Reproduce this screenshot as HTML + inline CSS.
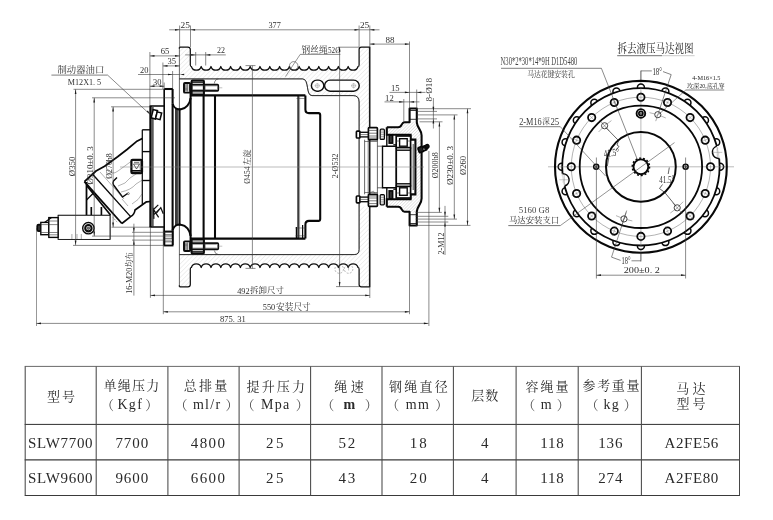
<!DOCTYPE html>
<html><head><meta charset="utf-8"><title>SLW winch drawing</title>
<style>html,body{margin:0;padding:0;background:#fff;}body{width:773px;height:520px;overflow:hidden;font-family:"Liberation Serif",serif;}svg{display:block}</style>
</head><body>
<svg width="773" height="520" viewBox="0 0 773 520">
<rect width="773" height="520" fill="#fff"/>
<g opacity="0.999">
<defs><pattern id="h" width="3.2" height="3.2" patternUnits="userSpaceOnUse" patternTransform="rotate(-45)"><line x1="0" y1="0" x2="3.2" y2="0" stroke="#c4c4c4" stroke-width="0.5"/></pattern></defs>
<path d="M179.4 79 L179.4 47.8 L180 47.2 L187.9 47.2 Q190.3 47.2 190.3 49.6 L190.3 64.7 Q190.3 66.5 191.4 66.5 A5.09 5.09 0 0 0 201.2 66.5 A5.09 5.09 0 0 0 211 66.5 A5.09 5.09 0 0 0 220.8 66.5 A5.09 5.09 0 0 0 230.6 66.5 A5.09 5.09 0 0 0 240.4 66.5 A5.09 5.09 0 0 0 250.2 66.5 A5.09 5.09 0 0 0 260 66.5 A5.09 5.09 0 0 0 269.8 66.5 A5.09 5.09 0 0 0 279.6 66.5 A5.09 5.09 0 0 0 289.4 66.5 A5.09 5.09 0 0 0 299.2 66.5 A5.09 5.09 0 0 0 309 66.5 A5.09 5.09 0 0 0 318.8 66.5 A5.09 5.09 0 0 0 328.6 66.5 A5.09 5.09 0 0 0 338.4 66.5 A5.09 5.09 0 0 0 348.2 66.5 A5.09 5.09 0 0 0 358 66.5 Q359.1 66.5 359.1 64.7 L359.1 49.6 Q359.1 47.2 361.5 47.2 L369.7 47.2 L369.7 127.4 L359.1 127.4 L359.1 102 Q359.1 95.6 353.2 95.6 L312 95.6 C305.5 95.6 309.5 78.9 302.5 78.9 L179.4 78.9 Z" stroke="none" stroke-width="0" fill="url(#h)"/>
<path d="M179.4 48.7 L179.4 47.8 L180 47.2 L187.9 47.2 Q190.3 47.2 190.3 49.6 L190.3 64.7 Q190.3 66.5 191.4 66.5 A5.09 5.09 0 0 0 201.2 66.5 A5.09 5.09 0 0 0 211 66.5 A5.09 5.09 0 0 0 220.8 66.5 A5.09 5.09 0 0 0 230.6 66.5 A5.09 5.09 0 0 0 240.4 66.5 A5.09 5.09 0 0 0 250.2 66.5 A5.09 5.09 0 0 0 260 66.5 A5.09 5.09 0 0 0 269.8 66.5 A5.09 5.09 0 0 0 279.6 66.5 A5.09 5.09 0 0 0 289.4 66.5 A5.09 5.09 0 0 0 299.2 66.5 A5.09 5.09 0 0 0 309 66.5 A5.09 5.09 0 0 0 318.8 66.5 A5.09 5.09 0 0 0 328.6 66.5 A5.09 5.09 0 0 0 338.4 66.5 A5.09 5.09 0 0 0 348.2 66.5 A5.09 5.09 0 0 0 358 66.5 Q359.1 66.5 359.1 64.7 L359.1 49.6 Q359.1 47.2 361.5 47.2 L369.7 47.2" stroke="#101010" stroke-width="1.24" fill="none" stroke-linejoin="round"/>
<path d="M179.4 78.9 L302.5 78.9 C309.5 78.9 305.5 95.6 312 95.6 L353.2 95.6 Q359.1 95.6 359.1 102" stroke="#161616" stroke-width="0.84" fill="none"/>
<path d="M179.4 78.9 L302.5 78.9 C309.5 78.9 305.5 95.6 312 95.6 L353.2 95.6 Q359.1 95.6 359.1 102" stroke="#161616" stroke-width="0.4" fill="none"/>
<path d="M218.5 78.9 Q215 79.2 214.3 83.5" stroke="#333" stroke-width="0.6" fill="none"/>
<rect x="311.4" y="80.1" width="12.4" height="11.1" rx="5.5" stroke="#101010" stroke-width="1.45" fill="#fff"/>
<rect x="324.6" y="80.1" width="34.6" height="11.1" rx="5.5" stroke="#101010" stroke-width="1.45" fill="#fff"/>
<circle cx="317.3" cy="85.7" r="2" stroke="#888" stroke-width="0.4" fill="none"/>
<line x1="314.7" y1="85.7" x2="319.9" y2="85.7" stroke="#888" stroke-width="0.4"/>
<line x1="317.3" y1="83.1" x2="317.3" y2="88.3" stroke="#888" stroke-width="0.4"/>
<circle cx="353.6" cy="85.7" r="2" stroke="#888" stroke-width="0.4" fill="none"/>
<line x1="351" y1="85.7" x2="356.2" y2="85.7" stroke="#888" stroke-width="0.4"/>
<line x1="353.6" y1="83.1" x2="353.6" y2="88.3" stroke="#888" stroke-width="0.4"/>
<path d="M179.4 255 L179.4 286.2 L180 286.8 L187.9 286.8 Q190.3 286.8 190.3 284.4 L190.3 269.3 Q190.3 267.5 191.4 267.5 A5.09 5.09 0 0 1 201.2 267.5 A5.09 5.09 0 0 1 211 267.5 A5.09 5.09 0 0 1 220.8 267.5 A5.09 5.09 0 0 1 230.6 267.5 A5.09 5.09 0 0 1 240.4 267.5 A5.09 5.09 0 0 1 250.2 267.5 A5.09 5.09 0 0 1 260 267.5 A5.09 5.09 0 0 1 269.8 267.5 A5.09 5.09 0 0 1 279.6 267.5 A5.09 5.09 0 0 1 289.4 267.5 A5.09 5.09 0 0 1 299.2 267.5 A5.09 5.09 0 0 1 309 267.5 A5.09 5.09 0 0 1 318.8 267.5 A5.09 5.09 0 0 1 328.6 267.5 A5.09 5.09 0 0 1 338.4 267.5 A5.09 5.09 0 0 1 348.2 267.5 A5.09 5.09 0 0 1 358 267.5 Q359.1 267.5 359.1 269.3 L359.1 284.4 Q359.1 286.8 361.5 286.8 L369.7 286.8 L369.7 206.6 L359.1 206.6 L359.1 249.6 Q359.1 254.6 354.2 254.6 L179.4 254.6 Z" stroke="none" stroke-width="0" fill="url(#h)"/>
<path d="M179.4 285.3 L179.4 286.2 L180 286.8 L187.9 286.8 Q190.3 286.8 190.3 284.4 L190.3 269.3 Q190.3 267.5 191.4 267.5 A5.09 5.09 0 0 1 201.2 267.5 A5.09 5.09 0 0 1 211 267.5 A5.09 5.09 0 0 1 220.8 267.5 A5.09 5.09 0 0 1 230.6 267.5 A5.09 5.09 0 0 1 240.4 267.5 A5.09 5.09 0 0 1 250.2 267.5 A5.09 5.09 0 0 1 260 267.5 A5.09 5.09 0 0 1 269.8 267.5 A5.09 5.09 0 0 1 279.6 267.5 A5.09 5.09 0 0 1 289.4 267.5 A5.09 5.09 0 0 1 299.2 267.5 A5.09 5.09 0 0 1 309 267.5 A5.09 5.09 0 0 1 318.8 267.5 A5.09 5.09 0 0 1 328.6 267.5 A5.09 5.09 0 0 1 338.4 267.5 A5.09 5.09 0 0 1 348.2 267.5 A5.09 5.09 0 0 1 358 267.5 Q359.1 267.5 359.1 269.3 L359.1 284.4 Q359.1 286.8 361.5 286.8 L369.7 286.8" stroke="#101010" stroke-width="1.24" fill="none" stroke-linejoin="round"/>
<path d="M179.4 254.6 L354.2 254.6 Q359.1 254.6 359.1 249.6" stroke="#161616" stroke-width="0.84" fill="none"/>
<path d="M179.4 254.6 L354.2 254.6 Q359.1 254.6 359.1 249.6" stroke="#161616" stroke-width="0.4" fill="none"/>
<path d="M218.5 254.6 Q215 254.3 214.3 250.5" stroke="#333" stroke-width="0.6" fill="none"/>
<circle cx="339.2" cy="269" r="4.3" stroke="#666" stroke-width="0.45" fill="none" stroke-dasharray="2 1.3"/>
<line x1="339.2" y1="266.5" x2="339.2" y2="270.5" stroke="#777" stroke-width="0.4"/>
<circle cx="348.6" cy="269" r="4.3" stroke="#666" stroke-width="0.45" fill="none" stroke-dasharray="2 1.3"/>
<line x1="348.6" y1="266.5" x2="348.6" y2="270.5" stroke="#777" stroke-width="0.4"/>
<line x1="369.7" y1="46.8" x2="369.7" y2="287.2" stroke="#1a1a1a" stroke-width="1.59"/>
<line x1="359.1" y1="102" x2="359.1" y2="249.6" stroke="#161616" stroke-width="0.84"/>
<line x1="359.1" y1="102" x2="359.1" y2="249.6" stroke="#161616" stroke-width="0.4"/>
<line x1="179.4" y1="47.2" x2="179.4" y2="286.8" stroke="#2a2a2a" stroke-width="0.7"/>
<line x1="190.6" y1="95.4" x2="305.4" y2="95.4" stroke="#080808" stroke-width="2.07"/>
<line x1="190.6" y1="238.6" x2="305.4" y2="238.6" stroke="#080808" stroke-width="2.07"/>
<line x1="203.6" y1="95.4" x2="203.6" y2="238.6" stroke="#080808" stroke-width="2.07"/>
<line x1="215" y1="95.4" x2="215" y2="238.6" stroke="#080808" stroke-width="2.07"/>
<line x1="190.6" y1="92" x2="190.6" y2="242" stroke="#080808" stroke-width="2.07"/>
<line x1="298.1" y1="95.4" x2="298.1" y2="238.6" stroke="#080808" stroke-width="1.38"/>
<line x1="299.6" y1="95.4" x2="299.6" y2="238.6" stroke="#333" stroke-width="0.5"/>
<path d="M305.4 95.4 V109.5 Q305.4 113.1 309 113.1 H318.4 Q320.2 113.1 320.2 115 V219 Q320.2 220.9 318.4 220.9 H309 Q305.4 220.9 305.4 224.5 V238.6" stroke="#080808" stroke-width="2.07" fill="none"/>
<line x1="296.4" y1="227" x2="296.4" y2="238.6" stroke="#080808" stroke-width="1.24"/>
<line x1="302.6" y1="225" x2="302.6" y2="238.6" stroke="#080808" stroke-width="1.24"/>
<line x1="295.5" y1="228" x2="306" y2="228" stroke="#333" stroke-width="0.5"/>
<line x1="295.5" y1="235.8" x2="306" y2="235.8" stroke="#333" stroke-width="0.5"/>
<line x1="296.5" y1="98.5" x2="305" y2="98.5" stroke="#333" stroke-width="0.5"/>
<rect x="184" y="83" width="6.2" height="9.6" rx="0.9" stroke="#0c0c0c" stroke-width="1.93" fill="#fff"/>
<line x1="184.9" y1="84.8" x2="187.6" y2="84.8" stroke="#111" stroke-width="0.6"/>
<line x1="184.9" y1="86" x2="187.6" y2="86" stroke="#111" stroke-width="0.6"/>
<line x1="184.9" y1="87.2" x2="187.6" y2="87.2" stroke="#111" stroke-width="0.6"/>
<line x1="184.9" y1="88.4" x2="187.6" y2="88.4" stroke="#111" stroke-width="0.6"/>
<line x1="184.9" y1="89.6" x2="187.6" y2="89.6" stroke="#111" stroke-width="0.6"/>
<line x1="184.9" y1="90.8" x2="187.6" y2="90.8" stroke="#111" stroke-width="0.6"/>
<line x1="187.8" y1="84" x2="187.8" y2="91.6" stroke="#222" stroke-width="0.6"/>
<rect x="191.6" y="80.6" width="12.3" height="14.4" rx="0.8" stroke="#0c0c0c" stroke-width="2.07" fill="#fff"/>
<rect x="190.2" y="84.7" width="28.1" height="6.2" rx="0.8" stroke="#0c0c0c" stroke-width="1.66" fill="none"/>
<line x1="192.1" y1="85.8" x2="216.8" y2="85.8" stroke="#333" stroke-width="0.6"/>
<line x1="192.1" y1="89.8" x2="216.8" y2="89.8" stroke="#333" stroke-width="0.6"/>
<line x1="191.6" y1="82.5" x2="203.9" y2="82.5" stroke="#111" stroke-width="0.84"/>
<line x1="191.6" y1="93.1" x2="203.9" y2="93.1" stroke="#111" stroke-width="0.84"/>
<line x1="205.1" y1="84.7" x2="205.1" y2="90.9" stroke="#333" stroke-width="0.6"/>
<line x1="218.3" y1="87.8" x2="222.3" y2="87.8" stroke="#666" stroke-width="0.4"/>
<rect x="184" y="241.4" width="6.2" height="9.6" rx="0.9" stroke="#0c0c0c" stroke-width="1.93" fill="#fff"/>
<line x1="184.9" y1="243.2" x2="187.6" y2="243.2" stroke="#111" stroke-width="0.6"/>
<line x1="184.9" y1="244.4" x2="187.6" y2="244.4" stroke="#111" stroke-width="0.6"/>
<line x1="184.9" y1="245.6" x2="187.6" y2="245.6" stroke="#111" stroke-width="0.6"/>
<line x1="184.9" y1="246.8" x2="187.6" y2="246.8" stroke="#111" stroke-width="0.6"/>
<line x1="184.9" y1="248" x2="187.6" y2="248" stroke="#111" stroke-width="0.6"/>
<line x1="184.9" y1="249.2" x2="187.6" y2="249.2" stroke="#111" stroke-width="0.6"/>
<line x1="187.8" y1="242.4" x2="187.8" y2="250" stroke="#222" stroke-width="0.6"/>
<rect x="191.6" y="239" width="12.3" height="14.4" rx="0.8" stroke="#0c0c0c" stroke-width="2.07" fill="#fff"/>
<rect x="190.2" y="243.1" width="28.1" height="6.2" rx="0.8" stroke="#0c0c0c" stroke-width="1.66" fill="none"/>
<line x1="192.1" y1="244.2" x2="216.8" y2="244.2" stroke="#333" stroke-width="0.6"/>
<line x1="192.1" y1="248.2" x2="216.8" y2="248.2" stroke="#333" stroke-width="0.6"/>
<line x1="191.6" y1="240.9" x2="203.9" y2="240.9" stroke="#111" stroke-width="0.84"/>
<line x1="191.6" y1="251.5" x2="203.9" y2="251.5" stroke="#111" stroke-width="0.84"/>
<line x1="205.1" y1="243.1" x2="205.1" y2="249.3" stroke="#333" stroke-width="0.6"/>
<line x1="218.3" y1="246.2" x2="222.3" y2="246.2" stroke="#666" stroke-width="0.4"/>
<line x1="164.2" y1="89" x2="172.9" y2="89" stroke="#080808" stroke-width="2.07"/>
<line x1="164.2" y1="245" x2="172.9" y2="245" stroke="#080808" stroke-width="2.07"/>
<line x1="164.2" y1="89" x2="164.2" y2="245" stroke="#080808" stroke-width="1.66"/>
<line x1="172.6" y1="89" x2="172.6" y2="103.8" stroke="#080808" stroke-width="2.07"/>
<line x1="172.6" y1="245" x2="172.6" y2="230.2" stroke="#080808" stroke-width="2.07"/>
<line x1="172.6" y1="103.8" x2="172.6" y2="230.2" stroke="#080808" stroke-width="2.07"/>
<path d="M172.6 103.8 C174 108.5 178 109.8 181 109.3 C186 108.6 190 104 190.6 98" stroke="#080808" stroke-width="2.07" fill="none"/>
<path d="M172.6 230.2 C174 225.5 178 224.2 181 224.7 C186 225.4 190 230 190.6 236" stroke="#080808" stroke-width="2.07" fill="none"/>
<line x1="176" y1="108.3" x2="176" y2="225.7" stroke="#080808" stroke-width="1.59"/>
<line x1="177.9" y1="108.3" x2="177.9" y2="225.7" stroke="#080808" stroke-width="1.24"/>
<line x1="179.8" y1="108.3" x2="179.8" y2="225.7" stroke="#080808" stroke-width="1.52"/>
<line x1="150.5" y1="106" x2="150.5" y2="227" stroke="#080808" stroke-width="2.35"/>
<line x1="152.9" y1="107" x2="152.9" y2="226.5" stroke="#1a1a1a" stroke-width="1.24"/>
<line x1="149.6" y1="106" x2="164.2" y2="106" stroke="#080808" stroke-width="1.52"/>
<line x1="149.6" y1="227" x2="164.2" y2="227" stroke="#080808" stroke-width="1.52"/>
<line x1="142.3" y1="129.8" x2="142.3" y2="204" stroke="#080808" stroke-width="1.24"/>
<line x1="142.3" y1="129.8" x2="150" y2="129.8" stroke="#080808" stroke-width="1.38"/>
<line x1="142.3" y1="151.6" x2="150" y2="151.6" stroke="#080808" stroke-width="1.38"/>
<line x1="142.3" y1="180.5" x2="150" y2="180.5" stroke="#080808" stroke-width="1.38"/>
<rect x="164.4" y="231.5" width="8.2" height="14" rx="0" stroke="#080808" stroke-width="1.79" fill="#fff"/>
<line x1="164.4" y1="234.8" x2="172.6" y2="234.8" stroke="#222" stroke-width="0.7"/>
<line x1="164.4" y1="238.3" x2="172.6" y2="238.3" stroke="#222" stroke-width="0.7"/>
<line x1="164.4" y1="241.8" x2="172.6" y2="241.8" stroke="#222" stroke-width="0.7"/>
<rect x="58.1" y="215.2" width="52" height="24.2" rx="0" stroke="#111" stroke-width="0.84" fill="#fff"/>
<rect x="58.1" y="215.2" width="52" height="24.2" rx="0" stroke="#111" stroke-width="0.5" fill="none"/>
<circle cx="88.4" cy="228.2" r="5.7" stroke="#080808" stroke-width="1.38" fill="none"/>
<circle cx="88.4" cy="228.2" r="3.2" stroke="#0c0c0c" stroke-width="2.07" fill="none"/>
<circle cx="88.4" cy="228.2" r="1.3" stroke="#333" stroke-width="0.6" fill="#777"/>
<line x1="71.9" y1="234" x2="71.9" y2="239" stroke="#555" stroke-width="0.5"/>
<line x1="77" y1="234" x2="77" y2="239" stroke="#555" stroke-width="0.5"/>
<line x1="81.3" y1="234" x2="81.3" y2="239" stroke="#555" stroke-width="0.5"/>
<rect x="37.2" y="224.6" width="3.8" height="6.6" rx="1.5" stroke="#080808" stroke-width="1.66" fill="#333"/>
<rect x="40.8" y="222.4" width="8" height="12.3" rx="0" stroke="#080808" stroke-width="1.38" fill="#fff"/>
<rect x="48.8" y="217.6" width="9.3" height="19.8" rx="0" stroke="#080808" stroke-width="1.38" fill="#fff"/>
<path d="M44.5 222.4 L51.5 217.6" stroke="#080808" stroke-width="1.24" fill="none"/>
<line x1="40.8" y1="224.6" x2="58" y2="224.6" stroke="#333" stroke-width="0.6"/>
<line x1="40.8" y1="232.5" x2="58" y2="232.5" stroke="#333" stroke-width="0.6"/>
<line x1="48.8" y1="221" x2="58" y2="221" stroke="#333" stroke-width="0.6"/>
<line x1="48.8" y1="234.8" x2="58" y2="234.8" stroke="#333" stroke-width="0.6"/>
<line x1="86.5" y1="182" x2="86.5" y2="215" stroke="#080808" stroke-width="1.79"/>
<path d="M87 186 L110.5 215" stroke="#080808" stroke-width="1.66" fill="none"/>
<line x1="91.3" y1="207" x2="91.3" y2="215" stroke="#080808" stroke-width="1.66"/>
<line x1="101.4" y1="207" x2="101.4" y2="215" stroke="#080808" stroke-width="1.66"/>
<path d="M86.5 200 L94 192.5" stroke="#080808" stroke-width="1.24" fill="none"/>
<path d="M142.3 138.5 L136.4 141.6 L127 149.5 L117.6 156.8 L104.6 166.2 L96 171 L90 176.5 L84.4 181.6" stroke="#080808" stroke-width="1.72" fill="none" stroke-linejoin="round"/>
<path d="M84.4 181.6 L121.9 223.5" stroke="#080808" stroke-width="1.86" fill="none"/>
<path d="M92.6 174.2 L130.6 216.6" stroke="#080808" stroke-width="1.38" fill="none"/>
<path d="M121.9 223.5 L130.6 216.6 Q134.5 214.5 135 210 L146.5 201.8 L150 201.5" stroke="#080808" stroke-width="1.66" fill="none" stroke-linejoin="round"/>
<path d="M113 217.5 L117.5 222.5" stroke="#333" stroke-width="0.6" fill="none" stroke-dasharray="1.2 1"/>
<path d="M117 177.5 L113.5 181 Q112.3 183 113.6 185 L122.5 197 L127.5 193.5" stroke="#080808" stroke-width="1.38" fill="none"/>
<circle cx="128.3" cy="193.6" r="1" stroke="#333" stroke-width="0.6" fill="none"/>
<path d="M100 172 L124 199 M106 169 Q112 176 118 171 L133 160 M118 186 Q126 184 130 178 L142 170 M121 192 Q131 190 136 184 L142.3 180 M128 206 L122 199 M132 204 Q139 200 142 194" stroke="#555" stroke-width="0.45" fill="none"/>
<rect x="131.4" y="159.8" width="10.6" height="13.4" rx="1.2" stroke="#0c0c0c" stroke-width="2.21" fill="#fff"/>
<line x1="131.4" y1="170.8" x2="142" y2="170.8" stroke="#080808" stroke-width="1.66"/>
<path d="M133.5 164 L139.5 164 L136.5 169 Z M134 162.3 H139" stroke="#222" stroke-width="0.7" fill="none"/>
<line x1="140.3" y1="160" x2="140.3" y2="173" stroke="#333" stroke-width="0.7"/>
<g transform="translate(155.3 114.5) rotate(14)">
<rect x="-3.2" y="-4.3" width="4.4" height="8.6" rx="0" stroke="#080808" stroke-width="1.52" fill="#fff"/>
<rect x="1.2" y="-3" width="4.6" height="6.8" rx="0" stroke="#080808" stroke-width="1.52" fill="#fff"/>
</g>
<g transform="translate(156 214) rotate(-18)">
<path d="M-3.5 4 L-1 -5 L1.5 4 M-1 -5 L5 -8 M1 -1 L6.5 -4.5 L7 2 M-2.2 0 L4.5 -3.4" stroke="#111" stroke-width="1.24" fill="none"/>
</g>
<defs><pattern id="h2" width="2.2" height="2.2" patternUnits="userSpaceOnUse" patternTransform="rotate(-45)"><line x1="0" y1="0" x2="2.2" y2="0" stroke="#a8a8a8" stroke-width="0.55"/></pattern></defs>
<path d="M386.8 127.2 H398.2 C402.6 127.2 400.8 122.3 404.6 122.3 H409.6 V108.5 H416.8 V122.3 C417.3 128.5 421.6 129.5 421.6 135.5 V167 H415.4 V139.6 H410.6 V134.8 H386.8 Z" stroke="none" stroke-width="0" fill="url(#h2)"/>
<rect x="409.6" y="108.5" width="7.2" height="13" rx="0" stroke="none" stroke-width="0" fill="#fff"/>
<path d="M386.8 127.2 H398.2 C402.6 127.2 400.8 122.3 404.6 122.3 H409.6 V108.5 H416.8 V122.3 C417.3 128.5 421.6 129.5 421.6 135.5 V167" stroke="#080808" stroke-width="2.07" fill="none" stroke-linejoin="round"/>
<path d="M386.8 127.2 V134.8 H410.6 V139.6 H415.4 V167" stroke="#080808" stroke-width="2.07" fill="none"/>
<line x1="409.6" y1="110.5" x2="416.8" y2="110.5" stroke="#111" stroke-width="0.84"/>
<line x1="409.6" y1="119.3" x2="416.8" y2="119.3" stroke="#111" stroke-width="0.84"/>
<rect x="396.2" y="136" width="14.4" height="11.6" rx="0" stroke="#080808" stroke-width="1.66" fill="#fff"/>
<rect x="399.6" y="138.7" width="7.6" height="7.5" rx="0" stroke="#080808" stroke-width="1.38" fill="#fff"/>
<line x1="396.2" y1="141" x2="399.6" y2="141" stroke="#333" stroke-width="0.6"/>
<line x1="407.2" y1="141" x2="410.6" y2="141" stroke="#333" stroke-width="0.6"/>
<rect x="389.2" y="135.2" width="3.4" height="7.9" rx="0" stroke="#080808" stroke-width="1.66" fill="#333"/>
<line x1="393.3" y1="144.8" x2="396.2" y2="144.8" stroke="#080808" stroke-width="1.24"/>
<path d="M386.8 134.6 V146.2 H396.2" stroke="#080808" stroke-width="1.38" fill="none"/>
<path d="M382.5 167 V146.2 H386.8" stroke="#080808" stroke-width="1.38" fill="none"/>
<line x1="396.2" y1="147.6" x2="396.2" y2="167" stroke="#080808" stroke-width="1.79"/>
<line x1="410.6" y1="147.6" x2="410.6" y2="167" stroke="#080808" stroke-width="1.79"/>
<line x1="413.2" y1="144" x2="413.2" y2="167" stroke="#222" stroke-width="0.84"/>
<line x1="396.2" y1="150.2" x2="410.6" y2="150.2" stroke="#080808" stroke-width="1.38"/>
<line x1="364.6" y1="139.7" x2="364.6" y2="167" stroke="#2a2a2a" stroke-width="0.7"/>
<line x1="368.2" y1="139.7" x2="368.2" y2="167" stroke="#2a2a2a" stroke-width="0.6"/>
<line x1="377.4" y1="139.7" x2="377.4" y2="167" stroke="#2a2a2a" stroke-width="0.7"/>
<line x1="377.4" y1="146.2" x2="382.5" y2="146.2" stroke="#2a2a2a" stroke-width="0.7"/>
<line x1="364.6" y1="141.5" x2="377.4" y2="141.5" stroke="#333" stroke-width="0.6"/>
<rect x="356.4" y="131.2" width="3.6" height="6.8" rx="0.8" stroke="#080808" stroke-width="1.66" fill="#fff"/>
<rect x="360" y="132.3" width="9" height="4.6" rx="0" stroke="#111" stroke-width="1.38" fill="#fff"/>
<line x1="360" y1="134.6" x2="369" y2="134.6" stroke="#333" stroke-width="0.6"/>
<rect x="368.4" y="127.6" width="9" height="12.1" rx="0.8" stroke="#080808" stroke-width="1.66" fill="#fff"/>
<line x1="368.4" y1="130.4" x2="377.4" y2="130.4" stroke="#222" stroke-width="0.6"/>
<line x1="368.4" y1="133.2" x2="377.4" y2="133.2" stroke="#222" stroke-width="0.6"/>
<line x1="368.4" y1="136" x2="377.4" y2="136" stroke="#222" stroke-width="0.6"/>
<line x1="368.4" y1="138" x2="377.4" y2="138" stroke="#222" stroke-width="0.6"/>
<rect x="380.2" y="129.2" width="4.2" height="10.2" rx="1" stroke="#080808" stroke-width="1.24" fill="#fff"/>
<line x1="380.4" y1="131" x2="384.2" y2="131" stroke="#333" stroke-width="0.45"/>
<line x1="380.4" y1="132.8" x2="384.2" y2="132.8" stroke="#333" stroke-width="0.45"/>
<line x1="380.4" y1="134.6" x2="384.2" y2="134.6" stroke="#333" stroke-width="0.45"/>
<line x1="380.4" y1="136.4" x2="384.2" y2="136.4" stroke="#333" stroke-width="0.45"/>
<line x1="380.4" y1="138.2" x2="384.2" y2="138.2" stroke="#333" stroke-width="0.45"/>
<path d="M386.8 206.8 H398.2 C402.6 206.8 400.8 211.7 404.6 211.7 H409.6 V225.5 H416.8 V211.7 C417.3 205.5 421.6 204.5 421.6 198.5 V167 H415.4 V194.4 H410.6 V199.2 H386.8 Z" stroke="none" stroke-width="0" fill="url(#h2)"/>
<rect x="409.6" y="212.5" width="7.2" height="13" rx="0" stroke="none" stroke-width="0" fill="#fff"/>
<path d="M386.8 206.8 H398.2 C402.6 206.8 400.8 211.7 404.6 211.7 H409.6 V225.5 H416.8 V211.7 C417.3 205.5 421.6 204.5 421.6 198.5 V167" stroke="#080808" stroke-width="2.07" fill="none" stroke-linejoin="round"/>
<path d="M386.8 206.8 V199.2 H410.6 V194.4 H415.4 V167" stroke="#080808" stroke-width="2.07" fill="none"/>
<line x1="409.6" y1="223.5" x2="416.8" y2="223.5" stroke="#111" stroke-width="0.84"/>
<line x1="409.6" y1="214.7" x2="416.8" y2="214.7" stroke="#111" stroke-width="0.84"/>
<rect x="396.2" y="186.4" width="14.4" height="11.6" rx="0" stroke="#080808" stroke-width="1.66" fill="#fff"/>
<rect x="399.6" y="187.8" width="7.6" height="7.5" rx="0" stroke="#080808" stroke-width="1.38" fill="#fff"/>
<line x1="396.2" y1="193" x2="399.6" y2="193" stroke="#333" stroke-width="0.6"/>
<line x1="407.2" y1="193" x2="410.6" y2="193" stroke="#333" stroke-width="0.6"/>
<rect x="389.2" y="190.9" width="3.4" height="7.9" rx="0" stroke="#080808" stroke-width="1.66" fill="#333"/>
<line x1="393.3" y1="189.2" x2="396.2" y2="189.2" stroke="#080808" stroke-width="1.24"/>
<path d="M386.8 199.4 V187.8 H396.2" stroke="#080808" stroke-width="1.38" fill="none"/>
<path d="M382.5 167 V187.8 H386.8" stroke="#080808" stroke-width="1.38" fill="none"/>
<line x1="396.2" y1="186.4" x2="396.2" y2="167" stroke="#080808" stroke-width="1.79"/>
<line x1="410.6" y1="186.4" x2="410.6" y2="167" stroke="#080808" stroke-width="1.79"/>
<line x1="413.2" y1="190" x2="413.2" y2="167" stroke="#222" stroke-width="0.84"/>
<line x1="396.2" y1="183.8" x2="410.6" y2="183.8" stroke="#080808" stroke-width="1.38"/>
<line x1="364.6" y1="194.3" x2="364.6" y2="167" stroke="#2a2a2a" stroke-width="0.7"/>
<line x1="368.2" y1="194.3" x2="368.2" y2="167" stroke="#2a2a2a" stroke-width="0.6"/>
<line x1="377.4" y1="194.3" x2="377.4" y2="167" stroke="#2a2a2a" stroke-width="0.7"/>
<line x1="377.4" y1="187.8" x2="382.5" y2="187.8" stroke="#2a2a2a" stroke-width="0.7"/>
<line x1="364.6" y1="192.5" x2="377.4" y2="192.5" stroke="#333" stroke-width="0.6"/>
<rect x="356.4" y="196" width="3.6" height="6.8" rx="0.8" stroke="#080808" stroke-width="1.66" fill="#fff"/>
<rect x="360" y="197.1" width="9" height="4.6" rx="0" stroke="#111" stroke-width="1.38" fill="#fff"/>
<line x1="360" y1="199.4" x2="369" y2="199.4" stroke="#333" stroke-width="0.6"/>
<rect x="368.4" y="194.3" width="9" height="12.1" rx="0.8" stroke="#080808" stroke-width="1.66" fill="#fff"/>
<line x1="368.4" y1="203.6" x2="377.4" y2="203.6" stroke="#222" stroke-width="0.6"/>
<line x1="368.4" y1="200.8" x2="377.4" y2="200.8" stroke="#222" stroke-width="0.6"/>
<line x1="368.4" y1="198" x2="377.4" y2="198" stroke="#222" stroke-width="0.6"/>
<line x1="368.4" y1="196" x2="377.4" y2="196" stroke="#222" stroke-width="0.6"/>
<rect x="380.2" y="194.6" width="4.2" height="10.2" rx="1" stroke="#080808" stroke-width="1.24" fill="#fff"/>
<line x1="380.4" y1="203" x2="384.2" y2="203" stroke="#333" stroke-width="0.45"/>
<line x1="380.4" y1="201.2" x2="384.2" y2="201.2" stroke="#333" stroke-width="0.45"/>
<line x1="380.4" y1="199.4" x2="384.2" y2="199.4" stroke="#333" stroke-width="0.45"/>
<line x1="380.4" y1="197.6" x2="384.2" y2="197.6" stroke="#333" stroke-width="0.45"/>
<line x1="380.4" y1="195.8" x2="384.2" y2="195.8" stroke="#333" stroke-width="0.45"/>
<g transform="translate(421.4 149.4) rotate(-20)">
<rect x="-3" y="-2.6" width="5" height="5.2" rx="1" stroke="#080808" stroke-width="1.66" fill="#222"/>
<rect x="2" y="-2.2" width="3.4" height="4.4" rx="1" stroke="#080808" stroke-width="1.52" fill="#111"/>
<circle cx="6.4" cy="-0.8" r="1.9" stroke="#080808" stroke-width="1.38" fill="#111"/>
<circle cx="2.5" cy="0.6" r="0.6" stroke="none" stroke-width="0" fill="#fff"/>
</g>
<path d="M370.5 192.3 L373.5 191.2 L374.8 193.5" stroke="#444" stroke-width="0.5" fill="none"/>
<line x1="169.2" y1="29.8" x2="379.5" y2="29.8" stroke="#3c3c3c" stroke-width="0.6"/>
<line x1="179.6" y1="25.5" x2="179.6" y2="47" stroke="#3c3c3c" stroke-width="0.6"/>
<line x1="190.5" y1="25.5" x2="190.5" y2="47" stroke="#3c3c3c" stroke-width="0.6"/>
<line x1="359.1" y1="25.5" x2="359.1" y2="47" stroke="#3c3c3c" stroke-width="0.6"/>
<line x1="369.8" y1="25.5" x2="369.8" y2="47" stroke="#3c3c3c" stroke-width="0.6"/>
<path d="M179.6 29.8 L175 30.65 L175 28.95 Z" fill="#1c1c1c"/>
<path d="M190.5 29.8 L195.1 28.95 L195.1 30.65 Z" fill="#1c1c1c"/>
<path d="M359.1 29.8 L354.5 30.65 L354.5 28.95 Z" fill="#1c1c1c"/>
<path d="M369.8 29.8 L374.4 28.95 L374.4 30.65 Z" fill="#1c1c1c"/>
<text x="185.2" y="28.4" font-family="'Liberation Serif', serif" font-size="9.0" fill="#2e2e2e" text-anchor="middle" textLength="9.4" lengthAdjust="spacingAndGlyphs">25</text>
<text x="274.6" y="28.4" font-family="'Liberation Serif', serif" font-size="9.0" fill="#2e2e2e" text-anchor="middle" textLength="12.4" lengthAdjust="spacingAndGlyphs">377</text>
<text x="364.6" y="28.4" font-family="'Liberation Serif', serif" font-size="9.0" fill="#2e2e2e" text-anchor="middle" textLength="9.4" lengthAdjust="spacingAndGlyphs">25</text>
<line x1="185.2" y1="54.9" x2="225.8" y2="54.9" stroke="#3c3c3c" stroke-width="0.6"/>
<line x1="195.7" y1="52" x2="195.7" y2="65.5" stroke="#3c3c3c" stroke-width="0.6"/>
<line x1="205.7" y1="52" x2="205.7" y2="65.5" stroke="#3c3c3c" stroke-width="0.6"/>
<path d="M195.7 54.9 L191.1 55.75 L191.1 54.05 Z" fill="#1c1c1c"/>
<path d="M205.7 54.9 L210.3 54.05 L210.3 55.75 Z" fill="#1c1c1c"/>
<text x="221" y="53.4" font-family="'Liberation Serif', serif" font-size="9.0" fill="#2e2e2e" text-anchor="middle" textLength="8" lengthAdjust="spacingAndGlyphs">22</text>
<line x1="149.9" y1="55.9" x2="179.6" y2="55.9" stroke="#3c3c3c" stroke-width="0.6"/>
<path d="M149.9 55.9 L154.5 55.05 L154.5 56.75 Z" fill="#1c1c1c"/>
<path d="M179.6 55.9 L175 56.75 L175 55.05 Z" fill="#1c1c1c"/>
<text x="165" y="54.4" font-family="'Liberation Serif', serif" font-size="9.0" fill="#2e2e2e" text-anchor="middle" textLength="8.6" lengthAdjust="spacingAndGlyphs">65</text>
<line x1="149.9" y1="52" x2="149.9" y2="106" stroke="#3c3c3c" stroke-width="0.6"/>
<line x1="162.9" y1="65.9" x2="179.6" y2="65.9" stroke="#3c3c3c" stroke-width="0.6"/>
<path d="M162.9 65.9 L167.5 65.05 L167.5 66.75 Z" fill="#1c1c1c"/>
<path d="M179.6 65.9 L175 66.75 L175 65.05 Z" fill="#1c1c1c"/>
<text x="171.8" y="64" font-family="'Liberation Serif', serif" font-size="9.0" fill="#2e2e2e" text-anchor="middle" textLength="8.6" lengthAdjust="spacingAndGlyphs">35</text>
<line x1="162.9" y1="62.5" x2="162.9" y2="89" stroke="#3c3c3c" stroke-width="0.6"/>
<line x1="138" y1="74.5" x2="179.6" y2="74.5" stroke="#3c3c3c" stroke-width="0.6"/>
<path d="M172.6 74.5 L168 75.35 L168 73.65 Z" fill="#1c1c1c"/>
<path d="M179.6 74.5 L184.2 73.65 L184.2 75.35 Z" fill="#1c1c1c"/>
<text x="144.2" y="72.8" font-family="'Liberation Serif', serif" font-size="8.6" fill="#2e2e2e" text-anchor="middle" textLength="8.4" lengthAdjust="spacingAndGlyphs">20</text>
<line x1="172.6" y1="71" x2="172.6" y2="89" stroke="#3c3c3c" stroke-width="0.6"/>
<line x1="149.9" y1="86.2" x2="164.2" y2="86.2" stroke="#3c3c3c" stroke-width="0.6"/>
<path d="M149.9 86.2 L154.5 85.35 L154.5 87.05 Z" fill="#1c1c1c"/>
<path d="M164.2 86.2 L159.6 87.05 L159.6 85.35 Z" fill="#1c1c1c"/>
<text x="157.2" y="84.6" font-family="'Liberation Serif', serif" font-size="8.6" fill="#2e2e2e" text-anchor="middle" textLength="8.4" lengthAdjust="spacingAndGlyphs">30</text>
<line x1="164.2" y1="82.5" x2="164.2" y2="89" stroke="#3c3c3c" stroke-width="0.6"/>
<line x1="369.8" y1="44.1" x2="409.5" y2="44.1" stroke="#3c3c3c" stroke-width="0.6"/>
<path d="M369.8 44.1 L374.4 43.25 L374.4 44.95 Z" fill="#1c1c1c"/>
<path d="M409.5 44.1 L404.9 44.95 L404.9 43.25 Z" fill="#1c1c1c"/>
<text x="390" y="42.6" font-family="'Liberation Serif', serif" font-size="9.0" fill="#2e2e2e" text-anchor="middle" textLength="9" lengthAdjust="spacingAndGlyphs">88</text>
<line x1="409.5" y1="41.5" x2="409.5" y2="108.5" stroke="#3c3c3c" stroke-width="0.6"/>
<line x1="389.5" y1="92.4" x2="425.5" y2="92.4" stroke="#3c3c3c" stroke-width="0.6"/>
<path d="M409.5 92.4 L404.9 93.25 L404.9 91.55 Z" fill="#1c1c1c"/>
<path d="M416.7 92.4 L421.3 91.55 L421.3 93.25 Z" fill="#1c1c1c"/>
<text x="395.3" y="90.8" font-family="'Liberation Serif', serif" font-size="9.0" fill="#2e2e2e" text-anchor="middle" textLength="8.6" lengthAdjust="spacingAndGlyphs">15</text>
<line x1="416.7" y1="89.5" x2="416.7" y2="108.5" stroke="#3c3c3c" stroke-width="0.6"/>
<line x1="384.5" y1="101.9" x2="419.5" y2="101.9" stroke="#3c3c3c" stroke-width="0.6"/>
<path d="M403.8 101.9 L399.2 102.75 L399.2 101.05 Z" fill="#1c1c1c"/>
<path d="M409.5 101.9 L414.1 101.05 L414.1 102.75 Z" fill="#1c1c1c"/>
<text x="389.4" y="100.5" font-family="'Liberation Serif', serif" font-size="9.0" fill="#2e2e2e" text-anchor="middle" textLength="8.6" lengthAdjust="spacingAndGlyphs">12</text>
<line x1="403.8" y1="99" x2="403.8" y2="122" stroke="#3c3c3c" stroke-width="0.6"/>
<line x1="150.4" y1="295.4" x2="369.8" y2="295.4" stroke="#3c3c3c" stroke-width="0.6"/>
<path d="M150.4 295.4 L155 294.55 L155 296.25 Z" fill="#1c1c1c"/>
<path d="M369.8 295.4 L365.2 296.25 L365.2 294.55 Z" fill="#1c1c1c"/>
<line x1="150.4" y1="227" x2="150.4" y2="297.8" stroke="#3c3c3c" stroke-width="0.6"/>
<line x1="369.8" y1="287" x2="369.8" y2="298" stroke="#3c3c3c" stroke-width="0.6"/>
<text x="237.2" y="293.6" font-family="'Liberation Serif', serif" font-size="9" fill="#2e2e2e" text-anchor="start" textLength="12.4" lengthAdjust="spacingAndGlyphs">492</text>
<text x="250" y="293.4" font-family="'Liberation Serif', 'Noto Serif CJK SC', serif" font-size="8.5" fill="#2e2e2e" text-anchor="start" textLength="34.1" lengthAdjust="spacingAndGlyphs">拆卸尺寸</text>
<line x1="163.3" y1="311.8" x2="409.5" y2="311.8" stroke="#3c3c3c" stroke-width="0.6"/>
<path d="M163.3 311.8 L167.9 310.95 L167.9 312.65 Z" fill="#1c1c1c"/>
<path d="M409.5 311.8 L404.9 312.65 L404.9 310.95 Z" fill="#1c1c1c"/>
<line x1="163.3" y1="228" x2="163.3" y2="314.2" stroke="#3c3c3c" stroke-width="0.6"/>
<line x1="409.5" y1="225.5" x2="409.5" y2="314.2" stroke="#3c3c3c" stroke-width="0.6"/>
<text x="262.8" y="309.7" font-family="'Liberation Serif', serif" font-size="9" fill="#2e2e2e" text-anchor="start" textLength="12.4" lengthAdjust="spacingAndGlyphs">550</text>
<text x="276" y="309.5" font-family="'Liberation Serif', 'Noto Serif CJK SC', serif" font-size="8.7" fill="#2e2e2e" text-anchor="start" textLength="34.8" lengthAdjust="spacingAndGlyphs">安装尺寸</text>
<line x1="36.4" y1="323.4" x2="428.5" y2="323.4" stroke="#3c3c3c" stroke-width="0.6"/>
<path d="M36.4 323.4 L41 322.55 L41 324.25 Z" fill="#1c1c1c"/>
<path d="M428.5 323.4 L423.9 324.25 L423.9 322.55 Z" fill="#1c1c1c"/>
<line x1="36.4" y1="228" x2="36.4" y2="326" stroke="#3c3c3c" stroke-width="0.6"/>
<line x1="428.9" y1="151" x2="428.9" y2="326" stroke="#3c3c3c" stroke-width="0.6"/>
<text x="220" y="322.3" font-family="'Liberation Serif', serif" font-size="9" fill="#2e2e2e" text-anchor="start" textLength="25.7" lengthAdjust="spacingAndGlyphs">875. 31</text>
<line x1="75.6" y1="89.3" x2="75.6" y2="245.2" stroke="#3c3c3c" stroke-width="0.6"/>
<path d="M75.6 89.3 L76.45 93.9 L74.75 93.9 Z" fill="#1c1c1c"/>
<path d="M75.6 245.2 L74.75 240.6 L76.45 240.6 Z" fill="#1c1c1c"/>
<line x1="73.5" y1="89.3" x2="164.2" y2="89.3" stroke="#3c3c3c" stroke-width="0.6"/>
<line x1="73" y1="245.4" x2="164.2" y2="245.4" stroke="#3c3c3c" stroke-width="0.6"/>
<text x="0" y="0" transform="translate(74.5 176.2) rotate(-90)" font-family="'Liberation Serif', serif" font-size="9.0" fill="#2e2e2e" text-anchor="start" textLength="19.6" lengthAdjust="spacingAndGlyphs">Ø350</text>
<line x1="94.2" y1="97.8" x2="94.2" y2="236.2" stroke="#3c3c3c" stroke-width="0.6"/>
<path d="M94.2 97.8 L95.05 102.4 L93.35 102.4 Z" fill="#1c1c1c"/>
<path d="M94.2 236.2 L93.35 231.6 L95.05 231.6 Z" fill="#1c1c1c"/>
<line x1="92" y1="97.8" x2="175" y2="97.8" stroke="#3c3c3c" stroke-width="0.6"/>
<line x1="92" y1="236.1" x2="172" y2="236.1" stroke="#3c3c3c" stroke-width="0.6"/>
<text x="0" y="0" transform="translate(92.9 184.6) rotate(-90)" font-family="'Liberation Serif', serif" font-size="9.0" fill="#2e2e2e" text-anchor="start" textLength="38.4" lengthAdjust="spacingAndGlyphs">Ø310±0. 3</text>
<line x1="113.1" y1="106.8" x2="113.1" y2="227.2" stroke="#3c3c3c" stroke-width="0.6"/>
<path d="M113.1 106.8 L113.95 111.4 L112.25 111.4 Z" fill="#1c1c1c"/>
<path d="M113.1 227.2 L112.25 222.6 L113.95 222.6 Z" fill="#1c1c1c"/>
<line x1="111" y1="106.8" x2="150" y2="106.8" stroke="#3c3c3c" stroke-width="0.6"/>
<line x1="111.5" y1="227.2" x2="150" y2="227.2" stroke="#3c3c3c" stroke-width="0.6"/>
<text x="0" y="0" transform="translate(111.9 178.8) rotate(-90)" font-family="'Liberation Serif', serif" font-size="9.0" fill="#2e2e2e" text-anchor="start" textLength="25.6" lengthAdjust="spacingAndGlyphs">Ø270h8</text>
<line x1="133.9" y1="223.7" x2="133.9" y2="295.6" stroke="#3c3c3c" stroke-width="0.6"/>
<path d="M133.9 232.3 L133.05 227.7 L134.75 227.7 Z" fill="#1c1c1c"/>
<path d="M133.9 240.1 L134.75 244.7 L133.05 244.7 Z" fill="#1c1c1c"/>
<line x1="132" y1="232.3" x2="172" y2="232.3" stroke="#3c3c3c" stroke-width="0.6"/>
<line x1="132" y1="240.1" x2="171" y2="240.1" stroke="#3c3c3c" stroke-width="0.6"/>
<text x="0" y="0" transform="translate(132.2 293.8) rotate(-90)" font-family="'Liberation Serif', serif" font-size="9.0" fill="#2e2e2e" text-anchor="start" textLength="26" lengthAdjust="spacingAndGlyphs">16-M20</text>
<text x="0" y="0" transform="translate(132 267.2) rotate(-90)" font-family="'Liberation Serif', 'Noto Serif CJK SC', serif" font-size="7.5" fill="#2e2e2e" text-anchor="start" textLength="14.9" lengthAdjust="spacingAndGlyphs">均布</text>
<text x="57.4" y="72.6" font-family="'Liberation Serif', 'Noto Serif CJK SC', serif" font-size="9.4" fill="#2e2e2e" text-anchor="start" textLength="47" lengthAdjust="spacingAndGlyphs">制动器油口</text>
<line x1="51.4" y1="75.1" x2="107.6" y2="75.1" stroke="#3c3c3c" stroke-width="0.65"/>
<line x1="107.6" y1="75.1" x2="150.2" y2="114.6" stroke="#3c3c3c" stroke-width="0.6"/>
<path d="M150.4 114.4 L146.64 111.62 L147.88 110.46 Z" fill="#1c1c1c"/>
<text x="67.8" y="84.9" font-family="'Liberation Serif', serif" font-size="9.0" fill="#2e2e2e" text-anchor="start" textLength="33.4" lengthAdjust="spacingAndGlyphs">M12X1. 5</text>
<text x="301.6" y="52.8" font-family="'Liberation Serif', 'Noto Serif CJK SC', serif" font-size="8.7" fill="#2e2e2e" text-anchor="start" textLength="26.1" lengthAdjust="spacingAndGlyphs">钢丝绳</text>
<text x="328" y="52.7" font-family="'Liberation Serif', serif" font-size="9.0" fill="#2e2e2e" text-anchor="start" textLength="12.4" lengthAdjust="spacingAndGlyphs">52Ø</text>
<line x1="300.2" y1="54.4" x2="340.4" y2="54.4" stroke="#3c3c3c" stroke-width="0.6"/>
<line x1="300.2" y1="54.4" x2="285.5" y2="76.5" stroke="#3c3c3c" stroke-width="0.55"/>
<circle cx="293.7" cy="65.8" r="4.2" stroke="#444" stroke-width="0.6" fill="none"/>
<line x1="339.6" y1="47.2" x2="339.6" y2="286.6" stroke="#3c3c3c" stroke-width="0.6"/>
<path d="M339.6 47.2 L340.45 51.8 L338.75 51.8 Z" fill="#1c1c1c"/>
<path d="M339.6 286.6 L338.75 282 L340.45 282 Z" fill="#1c1c1c"/>
<line x1="338" y1="47.2" x2="359" y2="47.2" stroke="#3c3c3c" stroke-width="0.6"/>
<line x1="336" y1="286.6" x2="359" y2="286.6" stroke="#3c3c3c" stroke-width="0.6"/>
<text x="0" y="0" transform="translate(338.3 178.2) rotate(-90)" font-family="'Liberation Serif', serif" font-size="9.0" fill="#2e2e2e" text-anchor="start" textLength="24.8" lengthAdjust="spacingAndGlyphs">2-Ø532</text>
<line x1="252.4" y1="65.6" x2="252.4" y2="268.4" stroke="#3c3c3c" stroke-width="0.6"/>
<line x1="245.5" y1="65.6" x2="255.5" y2="65.6" stroke="#3c3c3c" stroke-width="0.6"/>
<line x1="245.5" y1="268.4" x2="255.5" y2="268.4" stroke="#3c3c3c" stroke-width="0.6"/>
<text x="0" y="0" transform="translate(250 183.8) rotate(-90)" font-family="'Liberation Serif', serif" font-size="9.0" fill="#2e2e2e" text-anchor="start" textLength="17.5" lengthAdjust="spacingAndGlyphs">Ø454</text>
<text x="0" y="0" transform="translate(250 165.5) rotate(-90)" font-family="'Liberation Serif', 'Noto Serif CJK SC', serif" font-size="8" fill="#2e2e2e" text-anchor="start" textLength="16.1" lengthAdjust="spacingAndGlyphs">左旋</text>
<line x1="120" y1="167" x2="424" y2="167" stroke="#777" stroke-width="0.5"/>
<line x1="416.7" y1="108.7" x2="471" y2="108.7" stroke="#3c3c3c" stroke-width="0.6"/>
<line x1="416.7" y1="111.4" x2="437" y2="111.4" stroke="#3c3c3c" stroke-width="0.6"/>
<line x1="416.7" y1="114.9" x2="457.5" y2="114.9" stroke="#3c3c3c" stroke-width="0.6"/>
<line x1="416.7" y1="118.9" x2="437" y2="118.9" stroke="#3c3c3c" stroke-width="0.6"/>
<line x1="419.5" y1="121.8" x2="442.5" y2="121.8" stroke="#3c3c3c" stroke-width="0.6"/>
<line x1="415.6" y1="212.4" x2="441.8" y2="212.4" stroke="#3c3c3c" stroke-width="0.6"/>
<line x1="415.6" y1="216.3" x2="448.3" y2="216.3" stroke="#3c3c3c" stroke-width="0.6"/>
<line x1="415.6" y1="219.1" x2="457" y2="219.1" stroke="#3c3c3c" stroke-width="0.6"/>
<line x1="415.6" y1="222" x2="448.3" y2="222" stroke="#3c3c3c" stroke-width="0.6"/>
<line x1="415.6" y1="225.4" x2="470.5" y2="225.4" stroke="#3c3c3c" stroke-width="0.6"/>
<line x1="433.4" y1="98" x2="433.4" y2="128.5" stroke="#3c3c3c" stroke-width="0.6"/>
<path d="M433.4 111.4 L432.55 106.8 L434.25 106.8 Z" fill="#1c1c1c"/>
<path d="M433.4 118.9 L434.25 123.5 L432.55 123.5 Z" fill="#1c1c1c"/>
<text x="0" y="0" transform="translate(432.3 101.5) rotate(-90)" font-family="'Liberation Serif', serif" font-size="9.0" fill="#2e2e2e" text-anchor="start" textLength="23.5" lengthAdjust="spacingAndGlyphs">8-Ø18</text>
<line x1="439.4" y1="121.8" x2="439.4" y2="212.4" stroke="#3c3c3c" stroke-width="0.6"/>
<path d="M439.4 121.8 L440.25 126.4 L438.55 126.4 Z" fill="#1c1c1c"/>
<path d="M439.4 212.4 L438.55 207.8 L440.25 207.8 Z" fill="#1c1c1c"/>
<text x="0" y="0" transform="translate(438.4 178.3) rotate(-90)" font-family="'Liberation Serif', serif" font-size="9.0" fill="#2e2e2e" text-anchor="start" textLength="26" lengthAdjust="spacingAndGlyphs">Ø200h8</text>
<line x1="454.3" y1="114.9" x2="454.3" y2="219.1" stroke="#3c3c3c" stroke-width="0.6"/>
<path d="M454.3 114.9 L455.15 119.5 L453.45 119.5 Z" fill="#1c1c1c"/>
<path d="M454.3 219.1 L453.45 214.5 L455.15 214.5 Z" fill="#1c1c1c"/>
<text x="0" y="0" transform="translate(453.3 185) rotate(-90)" font-family="'Liberation Serif', serif" font-size="9.0" fill="#2e2e2e" text-anchor="start" textLength="39" lengthAdjust="spacingAndGlyphs">Ø230±0. 3</text>
<line x1="467.5" y1="108.7" x2="467.5" y2="225.4" stroke="#3c3c3c" stroke-width="0.6"/>
<path d="M467.5 108.7 L468.35 113.3 L466.65 113.3 Z" fill="#1c1c1c"/>
<path d="M467.5 225.4 L466.65 220.8 L468.35 220.8 Z" fill="#1c1c1c"/>
<text x="0" y="0" transform="translate(466.4 175) rotate(-90)" font-family="'Liberation Serif', serif" font-size="9.0" fill="#2e2e2e" text-anchor="start" textLength="19" lengthAdjust="spacingAndGlyphs">Ø260</text>
<line x1="445" y1="205.9" x2="445" y2="255" stroke="#3c3c3c" stroke-width="0.6"/>
<path d="M445 216.3 L444.15 211.7 L445.85 211.7 Z" fill="#1c1c1c"/>
<path d="M445 222 L445.85 226.6 L444.15 226.6 Z" fill="#1c1c1c"/>
<text x="0" y="0" transform="translate(443.6 254.4) rotate(-90)" font-family="'Liberation Serif', serif" font-size="9.0" fill="#2e2e2e" text-anchor="start" textLength="21.8" lengthAdjust="spacingAndGlyphs">2-M12</text>
<line x1="548" y1="166.8" x2="734" y2="166.8" stroke="#777" stroke-width="0.5"/>
<line x1="640.9" y1="70.5" x2="640.9" y2="262" stroke="#777" stroke-width="0.5"/>
<circle cx="640.9" cy="87.6" r="3.5" stroke="#080808" stroke-width="1.5" fill="#fff"/>
<circle cx="665.37" cy="91.48" r="3.5" stroke="#080808" stroke-width="1.5" fill="#fff"/>
<circle cx="687.45" cy="102.73" r="3.5" stroke="#080808" stroke-width="1.5" fill="#fff"/>
<circle cx="704.97" cy="120.25" r="3.5" stroke="#080808" stroke-width="1.5" fill="#fff"/>
<circle cx="716.22" cy="142.33" r="3.5" stroke="#080808" stroke-width="1.5" fill="#fff"/>
<circle cx="720.1" cy="166.8" r="3.5" stroke="#080808" stroke-width="1.5" fill="#fff"/>
<circle cx="716.22" cy="191.27" r="3.5" stroke="#080808" stroke-width="1.5" fill="#fff"/>
<circle cx="704.97" cy="213.35" r="3.5" stroke="#080808" stroke-width="1.5" fill="#fff"/>
<circle cx="687.45" cy="230.87" r="3.5" stroke="#080808" stroke-width="1.5" fill="#fff"/>
<circle cx="665.37" cy="242.12" r="3.5" stroke="#080808" stroke-width="1.5" fill="#fff"/>
<circle cx="640.9" cy="246" r="3.5" stroke="#080808" stroke-width="1.5" fill="#fff"/>
<circle cx="616.43" cy="242.12" r="3.5" stroke="#080808" stroke-width="1.5" fill="#fff"/>
<circle cx="594.35" cy="230.87" r="3.5" stroke="#080808" stroke-width="1.5" fill="#fff"/>
<circle cx="576.83" cy="213.35" r="3.5" stroke="#080808" stroke-width="1.5" fill="#fff"/>
<circle cx="565.58" cy="191.27" r="3.5" stroke="#080808" stroke-width="1.5" fill="#fff"/>
<circle cx="561.7" cy="166.8" r="3.5" stroke="#080808" stroke-width="1.5" fill="#fff"/>
<circle cx="565.58" cy="142.33" r="3.5" stroke="#080808" stroke-width="1.5" fill="#fff"/>
<circle cx="576.83" cy="120.25" r="3.5" stroke="#080808" stroke-width="1.5" fill="#fff"/>
<circle cx="594.35" cy="102.73" r="3.5" stroke="#080808" stroke-width="1.5" fill="#fff"/>
<circle cx="616.43" cy="91.48" r="3.5" stroke="#080808" stroke-width="1.5" fill="#fff"/>
<circle cx="640.9" cy="166.8" r="85.9" stroke="#080808" stroke-width="2.1" fill="none"/>
<circle cx="640.9" cy="166.8" r="78.7" stroke="#080808" stroke-width="1.8" fill="#fff"/>
<line x1="556" y1="166.8" x2="726" y2="166.8" stroke="#777" stroke-width="0.5"/>
<line x1="640.9" y1="88" x2="640.9" y2="246" stroke="#777" stroke-width="0.5"/>
<path d="M716.83 146.09 A78.7 78.7 0 0 1 719.15 158.38" stroke="#fff" stroke-width="2.8" fill="none"/>
<path d="M716.83 146.09 A6.3 6.3 0 0 0 719.15 158.38" stroke="#080808" stroke-width="1.5" fill="none"/>
<line x1="712.25" y1="152.37" x2="722.25" y2="152.37" stroke="#777" stroke-width="0.4"/>
<line x1="717.25" y1="147.37" x2="717.25" y2="157.37" stroke="#777" stroke-width="0.4"/>
<path d="M716.83 146.09 A78.7 78.7 0 0 1 719.15 158.38" stroke="#888" stroke-width="0.4" fill="none"/>
<path d="M564.59 186.05 A78.7 78.7 0 0 1 562.5 173.72" stroke="#fff" stroke-width="2.8" fill="none"/>
<path d="M564.59 186.05 A6.3 6.3 0 0 0 562.5 173.72" stroke="#080808" stroke-width="1.5" fill="none"/>
<line x1="559.29" y1="179.76" x2="569.29" y2="179.76" stroke="#777" stroke-width="0.4"/>
<line x1="564.29" y1="174.76" x2="564.29" y2="184.76" stroke="#777" stroke-width="0.4"/>
<path d="M564.59 186.05 A78.7 78.7 0 0 1 562.5 173.72" stroke="#888" stroke-width="0.4" fill="none"/>
<circle cx="640.9" cy="166.8" r="69.6" stroke="#555" stroke-width="0.45" fill="none"/>
<circle cx="640.9" cy="166.8" r="61.2" stroke="#080808" stroke-width="1.8" fill="none"/>
<circle cx="640.9" cy="166.8" r="34.9" stroke="#080808" stroke-width="2.0" fill="none"/>
<circle cx="640.9" cy="97.2" r="3.65" stroke="#080808" stroke-width="1.8" fill="#fff"/>
<line x1="640.9" y1="102.3" x2="640.9" y2="91.8" stroke="#666" stroke-width="0.4"/>
<line x1="638.7" y1="97.2" x2="643.1" y2="97.2" stroke="#666" stroke-width="0.4"/>
<circle cx="667.53" cy="102.5" r="3.65" stroke="#080808" stroke-width="1.8" fill="#fff"/>
<line x1="665.58" y1="107.21" x2="669.6" y2="97.51" stroke="#666" stroke-width="0.4"/>
<line x1="665.5" y1="101.66" x2="669.57" y2="103.34" stroke="#666" stroke-width="0.4"/>
<circle cx="690.11" cy="117.59" r="3.65" stroke="#080808" stroke-width="1.8" fill="#fff"/>
<line x1="686.51" y1="121.19" x2="693.93" y2="113.77" stroke="#666" stroke-width="0.4"/>
<line x1="688.56" y1="116.03" x2="691.67" y2="119.14" stroke="#666" stroke-width="0.4"/>
<circle cx="705.2" cy="140.17" r="3.65" stroke="#080808" stroke-width="1.8" fill="#fff"/>
<line x1="700.49" y1="142.12" x2="710.19" y2="138.1" stroke="#666" stroke-width="0.4"/>
<line x1="704.36" y1="138.13" x2="706.04" y2="142.2" stroke="#666" stroke-width="0.4"/>
<circle cx="710.5" cy="166.8" r="3.65" stroke="#080808" stroke-width="1.8" fill="#fff"/>
<line x1="705.4" y1="166.8" x2="715.9" y2="166.8" stroke="#666" stroke-width="0.4"/>
<line x1="710.5" y1="164.6" x2="710.5" y2="169" stroke="#666" stroke-width="0.4"/>
<circle cx="705.2" cy="193.43" r="3.65" stroke="#080808" stroke-width="1.8" fill="#fff"/>
<line x1="700.49" y1="191.48" x2="710.19" y2="195.5" stroke="#666" stroke-width="0.4"/>
<line x1="706.04" y1="191.4" x2="704.36" y2="195.47" stroke="#666" stroke-width="0.4"/>
<circle cx="690.11" cy="216.01" r="3.65" stroke="#080808" stroke-width="1.8" fill="#fff"/>
<line x1="686.51" y1="212.41" x2="693.93" y2="219.83" stroke="#666" stroke-width="0.4"/>
<line x1="691.67" y1="214.46" x2="688.56" y2="217.57" stroke="#666" stroke-width="0.4"/>
<circle cx="667.53" cy="231.1" r="3.65" stroke="#080808" stroke-width="1.8" fill="#fff"/>
<line x1="665.58" y1="226.39" x2="669.6" y2="236.09" stroke="#666" stroke-width="0.4"/>
<line x1="669.57" y1="230.26" x2="665.5" y2="231.94" stroke="#666" stroke-width="0.4"/>
<circle cx="640.9" cy="236.4" r="3.65" stroke="#080808" stroke-width="1.8" fill="#fff"/>
<line x1="640.9" y1="231.3" x2="640.9" y2="241.8" stroke="#666" stroke-width="0.4"/>
<line x1="643.1" y1="236.4" x2="638.7" y2="236.4" stroke="#666" stroke-width="0.4"/>
<circle cx="614.27" cy="231.1" r="3.65" stroke="#080808" stroke-width="1.8" fill="#fff"/>
<line x1="616.22" y1="226.39" x2="612.2" y2="236.09" stroke="#666" stroke-width="0.4"/>
<line x1="616.3" y1="231.94" x2="612.23" y2="230.26" stroke="#666" stroke-width="0.4"/>
<circle cx="591.69" cy="216.01" r="3.65" stroke="#080808" stroke-width="1.8" fill="#fff"/>
<line x1="595.29" y1="212.41" x2="587.87" y2="219.83" stroke="#666" stroke-width="0.4"/>
<line x1="593.24" y1="217.57" x2="590.13" y2="214.46" stroke="#666" stroke-width="0.4"/>
<circle cx="576.6" cy="193.43" r="3.65" stroke="#080808" stroke-width="1.8" fill="#fff"/>
<line x1="581.31" y1="191.48" x2="571.61" y2="195.5" stroke="#666" stroke-width="0.4"/>
<line x1="577.44" y1="195.47" x2="575.76" y2="191.4" stroke="#666" stroke-width="0.4"/>
<circle cx="571.3" cy="166.8" r="3.65" stroke="#080808" stroke-width="1.8" fill="#fff"/>
<line x1="576.4" y1="166.8" x2="565.9" y2="166.8" stroke="#666" stroke-width="0.4"/>
<line x1="571.3" y1="169" x2="571.3" y2="164.6" stroke="#666" stroke-width="0.4"/>
<circle cx="576.6" cy="140.17" r="3.65" stroke="#080808" stroke-width="1.8" fill="#fff"/>
<line x1="581.31" y1="142.12" x2="571.61" y2="138.1" stroke="#666" stroke-width="0.4"/>
<line x1="575.76" y1="142.2" x2="577.44" y2="138.13" stroke="#666" stroke-width="0.4"/>
<circle cx="591.69" cy="117.59" r="3.65" stroke="#080808" stroke-width="1.8" fill="#fff"/>
<line x1="595.29" y1="121.19" x2="587.87" y2="113.77" stroke="#666" stroke-width="0.4"/>
<line x1="590.13" y1="119.14" x2="593.24" y2="116.03" stroke="#666" stroke-width="0.4"/>
<circle cx="614.27" cy="102.5" r="3.65" stroke="#080808" stroke-width="1.8" fill="#fff"/>
<line x1="616.22" y1="107.21" x2="612.2" y2="97.51" stroke="#666" stroke-width="0.4"/>
<line x1="612.23" y1="103.34" x2="616.3" y2="101.66" stroke="#666" stroke-width="0.4"/>
<circle cx="596.2" cy="166.8" r="2.5" stroke="#080808" stroke-width="1.5" fill="#fff"/>
<circle cx="596.2" cy="166.8" r="0.9" stroke="#333" stroke-width="0.8" fill="#555"/>
<circle cx="685.6" cy="166.8" r="2.5" stroke="#080808" stroke-width="1.5" fill="#fff"/>
<circle cx="685.6" cy="166.8" r="0.9" stroke="#333" stroke-width="0.8" fill="#555"/>
<path d="M649.47 112.67 A54.8 54.8 0 0 1 665.78 117.97" stroke="#555" stroke-width="0.45" fill="none"/>
<circle cx="657.83" cy="114.68" r="3.1" stroke="#1c1c1c" stroke-width="0.8" fill="#fff"/>
<line x1="655.73" y1="121.15" x2="660.21" y2="107.36" stroke="#444" stroke-width="0.45"/>
<line x1="655.83" y1="116.68" x2="659.83" y2="112.68" stroke="#444" stroke-width="0.45"/>
<path d="M632.33 220.93 A54.8 54.8 0 0 1 616.02 215.63" stroke="#555" stroke-width="0.45" fill="none"/>
<circle cx="623.97" cy="218.92" r="3.1" stroke="#1c1c1c" stroke-width="0.8" fill="#fff"/>
<line x1="626.07" y1="212.45" x2="621.59" y2="226.24" stroke="#444" stroke-width="0.45"/>
<line x1="621.97" y1="220.92" x2="625.97" y2="216.92" stroke="#444" stroke-width="0.45"/>
<path d="M598.61 131.94 A54.8 54.8 0 0 1 611.46 120.58" stroke="#555" stroke-width="0.45" fill="none"/>
<circle cx="604.59" cy="125.76" r="3.1" stroke="#1c1c1c" stroke-width="0.8" fill="#fff"/>
<line x1="609.09" y1="130.85" x2="599.49" y2="119.99" stroke="#444" stroke-width="0.45"/>
<line x1="602.59" y1="127.76" x2="606.59" y2="123.76" stroke="#444" stroke-width="0.45"/>
<path d="M683.19 201.66 A54.8 54.8 0 0 1 670.34 213.02" stroke="#555" stroke-width="0.45" fill="none"/>
<circle cx="677.21" cy="207.84" r="3.1" stroke="#1c1c1c" stroke-width="0.8" fill="#fff"/>
<line x1="672.71" y1="202.75" x2="682.31" y2="213.61" stroke="#444" stroke-width="0.45"/>
<line x1="675.21" y1="209.84" x2="679.21" y2="205.84" stroke="#444" stroke-width="0.45"/>
<circle cx="640.9" cy="113.4" r="4.3" stroke="#080808" stroke-width="1.9" fill="#fff"/>
<circle cx="640.9" cy="113.4" r="2" stroke="#080808" stroke-width="1.7" fill="none"/>
<circle cx="640.9" cy="113.4" r="0.7" stroke="#444" stroke-width="0.5" fill="#666"/>
<circle cx="640.9" cy="166.8" r="7.4" stroke="#080808" stroke-width="1.9" fill="#fff"/>
<circle cx="640.9" cy="166.8" r="8.7" stroke="#080808" stroke-width="1.4" fill="none" stroke-dasharray="1.95 1.95"/>
<line x1="596.4" y1="157.5" x2="596.4" y2="278.5" stroke="#3c3c3c" stroke-width="0.6"/>
<line x1="685.6" y1="157.5" x2="685.6" y2="278.5" stroke="#3c3c3c" stroke-width="0.6"/>
<line x1="596.4" y1="275.2" x2="685.6" y2="275.2" stroke="#3c3c3c" stroke-width="0.6"/>
<path d="M596.4 275.2 L601 274.35 L601 276.05 Z" fill="#1c1c1c"/>
<path d="M685.6 275.2 L681 276.05 L681 274.35 Z" fill="#1c1c1c"/>
<text x="641.8" y="273" font-family="'Liberation Serif', serif" font-size="9" fill="#2e2e2e" text-anchor="middle" textLength="36" lengthAdjust="spacingAndGlyphs">200±0. 2</text>
<text x="500.6" y="65.4" font-family="'Liberation Serif', serif" font-size="11.5" fill="#444" text-anchor="start" textLength="76.7" lengthAdjust="spacingAndGlyphs">N30*2*30*14*9H D1D5480</text>
<line x1="501" y1="68.3" x2="601.4" y2="68.3" stroke="#3a3a3a" stroke-width="0.65"/>
<line x1="601.4" y1="68.3" x2="637.4" y2="159.6" stroke="#3a3a3a" stroke-width="0.6"/>
<text x="527.2" y="76.6" font-family="'Liberation Serif', 'Noto Serif CJK SC', serif" font-size="8.4" fill="#333" text-anchor="start" textLength="47.5" lengthAdjust="spacingAndGlyphs">马达花键安装孔</text>
<text x="519.2" y="124.6" font-family="'Liberation Serif', serif" font-size="10" fill="#3a3a3a" text-anchor="start" textLength="22.5" lengthAdjust="spacingAndGlyphs">2-M16</text>
<text x="542.3" y="124.4" font-family="'Liberation Serif', 'Noto Serif CJK SC', serif" font-size="7.6" fill="#333" text-anchor="start" textLength="7.6" lengthAdjust="spacingAndGlyphs">深</text>
<text x="550.4" y="124.6" font-family="'Liberation Serif', serif" font-size="10" fill="#3a3a3a" text-anchor="start" textLength="8.8" lengthAdjust="spacingAndGlyphs">25</text>
<line x1="519.2" y1="126.7" x2="560.3" y2="126.7" stroke="#3a3a3a" stroke-width="0.65"/>
<line x1="560.3" y1="126.7" x2="605.6" y2="176" stroke="#3a3a3a" stroke-width="0.55"/>
<text x="518.8" y="212.6" font-family="'Liberation Serif', serif" font-size="8.6" fill="#444" text-anchor="start" textLength="30.5" lengthAdjust="spacingAndGlyphs">5160 G8</text>
<text x="509" y="223.2" font-family="'Liberation Serif', 'Noto Serif CJK SC', serif" font-size="8.4" fill="#2a2a2a" text-anchor="start" textLength="50.1" lengthAdjust="spacingAndGlyphs">马达安装支口</text>
<line x1="508.3" y1="225.6" x2="560.3" y2="225.6" stroke="#3a3a3a" stroke-width="0.7"/>
<line x1="560.3" y1="225.6" x2="674.5" y2="142.6" stroke="#3a3a3a" stroke-width="0.55"/>
<text x="617.4" y="53" font-family="'Liberation Serif', 'Noto Serif CJK SC', serif" font-size="12" fill="#222" text-anchor="start" textLength="76.1" lengthAdjust="spacingAndGlyphs">拆去液压马达视图</text>
<line x1="617.2" y1="55.7" x2="662" y2="55.7" stroke="#333" stroke-width="0.7"/>
<line x1="662" y1="55.7" x2="694.6" y2="55.7" stroke="#999" stroke-width="0.5"/>
<text x="692.2" y="80.4" font-family="'Liberation Serif', serif" font-size="5.6" fill="#222" text-anchor="start" textLength="28.3" lengthAdjust="spacingAndGlyphs">4-M16×1.5</text>
<text x="686.7" y="88.2" font-family="'Liberation Serif', 'Noto Serif CJK SC', serif" font-size="6.2" fill="#222" text-anchor="start" textLength="12.4" lengthAdjust="spacingAndGlyphs">攻深</text>
<text x="699.4" y="88" font-family="'Liberation Serif', serif" font-size="7" fill="#222" text-anchor="start" textLength="7.2" lengthAdjust="spacingAndGlyphs">20,</text>
<text x="707" y="88.2" font-family="'Liberation Serif', 'Noto Serif CJK SC', serif" font-size="6" fill="#222" text-anchor="start" textLength="17.8" lengthAdjust="spacingAndGlyphs">底孔穿</text>
<line x1="685.8" y1="90" x2="724.2" y2="90" stroke="#333" stroke-width="0.6"/>
<line x1="685.8" y1="90" x2="659" y2="114.2" stroke="#333" stroke-width="0.5"/>
<line x1="640.9" y1="70.8" x2="640.9" y2="80" stroke="#333" stroke-width="0.6"/>
<line x1="640.9" y1="70.9" x2="651.8" y2="70.9" stroke="#333" stroke-width="0.6"/>
<text x="652.4" y="75.4" font-family="'Liberation Serif', serif" font-size="10.5" fill="#2e2e2e" text-anchor="start" textLength="9.6" lengthAdjust="spacingAndGlyphs">18°</text>
<line x1="663" y1="71.6" x2="671.2" y2="74.6" stroke="#333" stroke-width="0.6"/>
<line x1="671.2" y1="74.6" x2="659.44" y2="109.74" stroke="#333" stroke-width="0.6"/>
<line x1="611.54" y1="257.15" x2="626.69" y2="210.55" stroke="#333" stroke-width="0.55"/>
<line x1="611.54" y1="257.15" x2="620.6" y2="260.4" stroke="#333" stroke-width="0.6"/>
<text x="621.5" y="263.8" font-family="'Liberation Serif', serif" font-size="10.5" fill="#2e2e2e" text-anchor="start" textLength="9" lengthAdjust="spacingAndGlyphs">18°</text>
<line x1="631.5" y1="260.8" x2="640.9" y2="260.8" stroke="#333" stroke-width="0.6"/>
<line x1="640.9" y1="252" x2="640.9" y2="260.8" stroke="#333" stroke-width="0.6"/>
<text x="0" y="0" transform="translate(604.2 157.2) rotate(-8)" font-family="'Liberation Serif', serif" font-size="10.5" fill="#333" text-anchor="start" textLength="15.5" lengthAdjust="spacingAndGlyphs">41.5°</text>
<text x="659.2" y="183" font-family="'Liberation Serif', serif" font-size="10.5" fill="#333" text-anchor="start" textLength="15" lengthAdjust="spacingAndGlyphs">41.5°</text>
<path d="M606.09 127.76 L618.6 140.6 L617 145 L619 146.5 L615.5 150.5" stroke="#222" stroke-width="0.7" fill="none"/>
<path d="M608.8 157.5 L607.4 166" stroke="#222" stroke-width="0.7" fill="none"/>
<path d="M675.71 205.84 L664.8 192.5 L659.5 188.5 L662.5 184.5" stroke="#222" stroke-width="0.7" fill="none"/>
<path d="M669.3 167.5 L668.2 174" stroke="#222" stroke-width="0.7" fill="none"/>
<line x1="24.7" y1="366.4" x2="740" y2="366.4" stroke="#6a6a6a" stroke-width="1.0"/>
<line x1="24.7" y1="424.4" x2="740" y2="424.4" stroke="#2e2e2e" stroke-width="1.0"/>
<line x1="24.7" y1="459.9" x2="740" y2="459.9" stroke="#3a3a3a" stroke-width="1.2"/>
<line x1="24.7" y1="495.5" x2="740" y2="495.5" stroke="#3a3a3a" stroke-width="1.1"/>
<line x1="25.2" y1="366.4" x2="25.2" y2="495.5" stroke="#484848" stroke-width="1.05"/>
<line x1="96.2" y1="366.4" x2="96.2" y2="495.5" stroke="#484848" stroke-width="1.05"/>
<line x1="167.9" y1="366.4" x2="167.9" y2="495.5" stroke="#484848" stroke-width="1.05"/>
<line x1="239.1" y1="366.4" x2="239.1" y2="495.5" stroke="#484848" stroke-width="1.05"/>
<line x1="310.6" y1="366.4" x2="310.6" y2="495.5" stroke="#484848" stroke-width="1.05"/>
<line x1="382" y1="366.4" x2="382" y2="495.5" stroke="#484848" stroke-width="1.05"/>
<line x1="453.4" y1="366.4" x2="453.4" y2="495.5" stroke="#484848" stroke-width="1.05"/>
<line x1="516.1" y1="366.4" x2="516.1" y2="495.5" stroke="#484848" stroke-width="1.05"/>
<line x1="578.2" y1="366.4" x2="578.2" y2="495.5" stroke="#484848" stroke-width="1.05"/>
<line x1="641.4" y1="366.4" x2="641.4" y2="495.5" stroke="#484848" stroke-width="1.05"/>
<line x1="739.5" y1="366.4" x2="739.5" y2="495.5" stroke="#484848" stroke-width="1.05"/>
<text x="46.9" y="400.79" font-family="'Liberation Serif', 'Noto Serif CJK SC', serif" font-size="13" fill="#2a2a2a" text-anchor="start" textLength="28.1" lengthAdjust="spacing">型号</text>
<text x="103.43" y="390.39" font-family="'Liberation Serif', 'Noto Serif CJK SC', serif" font-size="13" fill="#2a2a2a" text-anchor="start" textLength="55.8" lengthAdjust="spacing">单绳压力</text>
<text x="183.86" y="390.39" font-family="'Liberation Serif', 'Noto Serif CJK SC', serif" font-size="13" fill="#2a2a2a" text-anchor="start" textLength="43.5" lengthAdjust="spacing">总排量</text>
<text x="246.6" y="390.69" font-family="'Liberation Serif', 'Noto Serif CJK SC', serif" font-size="13" fill="#2a2a2a" text-anchor="start" textLength="58.4" lengthAdjust="spacing">提升压力</text>
<text x="334.18" y="390.69" font-family="'Liberation Serif', 'Noto Serif CJK SC', serif" font-size="13" fill="#2a2a2a" text-anchor="start" textLength="29.5" lengthAdjust="spacing">绳速</text>
<text x="389.08" y="390.69" font-family="'Liberation Serif', 'Noto Serif CJK SC', serif" font-size="13" fill="#2a2a2a" text-anchor="start" textLength="58.6" lengthAdjust="spacing">钢绳直径</text>
<text x="471.33" y="399.89" font-family="'Liberation Serif', 'Noto Serif CJK SC', serif" font-size="13" fill="#2a2a2a" text-anchor="start" textLength="26.9" lengthAdjust="spacing">层数</text>
<text x="525.53" y="390.69" font-family="'Liberation Serif', 'Noto Serif CJK SC', serif" font-size="13" fill="#2a2a2a" text-anchor="start" textLength="43" lengthAdjust="spacing">容绳量</text>
<text x="582.56" y="390.39" font-family="'Liberation Serif', 'Noto Serif CJK SC', serif" font-size="13" fill="#2a2a2a" text-anchor="start" textLength="56.9" lengthAdjust="spacing">参考重量</text>
<text x="676.21" y="392.69" font-family="'Liberation Serif', 'Noto Serif CJK SC', serif" font-size="13" fill="#2a2a2a" text-anchor="start" textLength="29.2" lengthAdjust="spacing">马达</text>
<text x="676.5" y="407.89" font-family="'Liberation Serif', 'Noto Serif CJK SC', serif" font-size="13" fill="#2a2a2a" text-anchor="start" textLength="28.9" lengthAdjust="spacing">型号</text>
<text x="130.3" y="409" font-family="'Liberation Serif', serif" font-size="14" fill="#2a2a2a" text-anchor="middle" letter-spacing="1.3">Kgf</text>
<text x="100.94" y="409.6" font-family="'Liberation Serif', 'Noto Serif CJK SC', serif" font-size="13" fill="#444" text-anchor="start">（</text>
<text x="145.36" y="409.6" font-family="'Liberation Serif', 'Noto Serif CJK SC', serif" font-size="13" fill="#444" text-anchor="start">）</text>
<text x="207.15" y="409" font-family="'Liberation Serif', serif" font-size="14" fill="#2a2a2a" text-anchor="middle" letter-spacing="1.3">ml/r</text>
<text x="174.54" y="409.6" font-family="'Liberation Serif', 'Noto Serif CJK SC', serif" font-size="13" fill="#444" text-anchor="start">（</text>
<text x="225.46" y="409.6" font-family="'Liberation Serif', 'Noto Serif CJK SC', serif" font-size="13" fill="#444" text-anchor="start">）</text>
<text x="275.8" y="409" font-family="'Liberation Serif', serif" font-size="14" fill="#2a2a2a" text-anchor="middle" letter-spacing="1.3">Mpa</text>
<text x="241.44" y="409.6" font-family="'Liberation Serif', 'Noto Serif CJK SC', serif" font-size="13" fill="#444" text-anchor="start">（</text>
<text x="295.86" y="409.6" font-family="'Liberation Serif', 'Noto Serif CJK SC', serif" font-size="13" fill="#444" text-anchor="start">）</text>
<text x="350.05" y="409" font-family="'Liberation Serif', serif" font-size="14" fill="#2a2a2a" text-anchor="middle" letter-spacing="1.3" font-weight="bold">m</text>
<text x="321.14" y="409.6" font-family="'Liberation Serif', 'Noto Serif CJK SC', serif" font-size="13" fill="#444" text-anchor="start">（</text>
<text x="364.66" y="409.6" font-family="'Liberation Serif', 'Noto Serif CJK SC', serif" font-size="13" fill="#444" text-anchor="start">）</text>
<text x="418" y="409" font-family="'Liberation Serif', serif" font-size="14" fill="#2a2a2a" text-anchor="middle" letter-spacing="1.3">mm</text>
<text x="386.34" y="409.6" font-family="'Liberation Serif', 'Noto Serif CJK SC', serif" font-size="13" fill="#444" text-anchor="start">（</text>
<text x="435.36" y="409.6" font-family="'Liberation Serif', 'Noto Serif CJK SC', serif" font-size="13" fill="#444" text-anchor="start">）</text>
<text x="546.75" y="409" font-family="'Liberation Serif', serif" font-size="14" fill="#2a2a2a" text-anchor="middle" letter-spacing="1.3">m</text>
<text x="522.34" y="409.6" font-family="'Liberation Serif', 'Noto Serif CJK SC', serif" font-size="13" fill="#444" text-anchor="start">（</text>
<text x="556.86" y="409.6" font-family="'Liberation Serif', 'Noto Serif CJK SC', serif" font-size="13" fill="#444" text-anchor="start">）</text>
<text x="611.85" y="409" font-family="'Liberation Serif', serif" font-size="14" fill="#2a2a2a" text-anchor="middle" letter-spacing="1.3">kg</text>
<text x="585.54" y="409.6" font-family="'Liberation Serif', 'Noto Serif CJK SC', serif" font-size="13" fill="#444" text-anchor="start">（</text>
<text x="623.86" y="409.6" font-family="'Liberation Serif', 'Noto Serif CJK SC', serif" font-size="13" fill="#444" text-anchor="start">）</text>
<text x="28" y="448" font-family="'Liberation Serif', serif" font-size="15" fill="#2a2a2a" text-anchor="start" textLength="64.6" lengthAdjust="spacing">SLW7700</text>
<text x="115.4" y="448" font-family="'Liberation Serif', serif" font-size="15" fill="#2a2a2a" text-anchor="start" textLength="32.9" lengthAdjust="spacing">7700</text>
<text x="190.8" y="448" font-family="'Liberation Serif', serif" font-size="15" fill="#2a2a2a" text-anchor="start" textLength="34.2" lengthAdjust="spacing">4800</text>
<text x="266" y="448" font-family="'Liberation Serif', serif" font-size="15" fill="#2a2a2a" text-anchor="start" textLength="17.6" lengthAdjust="spacing">25</text>
<text x="338.4" y="448" font-family="'Liberation Serif', serif" font-size="15" fill="#2a2a2a" text-anchor="start" textLength="16.9" lengthAdjust="spacing">52</text>
<text x="409.7" y="448" font-family="'Liberation Serif', serif" font-size="15" fill="#2a2a2a" text-anchor="start" textLength="17.0" lengthAdjust="spacing">18</text>
<text x="481" y="448" font-family="'Liberation Serif', serif" font-size="15" fill="#2a2a2a" text-anchor="start">4</text>
<text x="540.3" y="448" font-family="'Liberation Serif', serif" font-size="15" fill="#2a2a2a" text-anchor="start" textLength="23.4" lengthAdjust="spacing">118</text>
<text x="598.3" y="448" font-family="'Liberation Serif', serif" font-size="15" fill="#2a2a2a" text-anchor="start" textLength="24.1" lengthAdjust="spacing">136</text>
<text x="664.6" y="448" font-family="'Liberation Serif', serif" font-size="15" fill="#2a2a2a" text-anchor="start" textLength="53.7" lengthAdjust="spacing">A2FE56</text>
<text x="28" y="483.4" font-family="'Liberation Serif', serif" font-size="15" fill="#2a2a2a" text-anchor="start" textLength="64.6" lengthAdjust="spacing">SLW9600</text>
<text x="115.4" y="483.4" font-family="'Liberation Serif', serif" font-size="15" fill="#2a2a2a" text-anchor="start" textLength="32.9" lengthAdjust="spacing">9600</text>
<text x="190.8" y="483.4" font-family="'Liberation Serif', serif" font-size="15" fill="#2a2a2a" text-anchor="start" textLength="34.2" lengthAdjust="spacing">6600</text>
<text x="266" y="483.4" font-family="'Liberation Serif', serif" font-size="15" fill="#2a2a2a" text-anchor="start" textLength="17.6" lengthAdjust="spacing">25</text>
<text x="338.4" y="483.4" font-family="'Liberation Serif', serif" font-size="15" fill="#2a2a2a" text-anchor="start" textLength="16.9" lengthAdjust="spacing">43</text>
<text x="409.7" y="483.4" font-family="'Liberation Serif', serif" font-size="15" fill="#2a2a2a" text-anchor="start" textLength="17.0" lengthAdjust="spacing">20</text>
<text x="481" y="483.4" font-family="'Liberation Serif', serif" font-size="15" fill="#2a2a2a" text-anchor="start">4</text>
<text x="540.3" y="483.4" font-family="'Liberation Serif', serif" font-size="15" fill="#2a2a2a" text-anchor="start" textLength="23.4" lengthAdjust="spacing">118</text>
<text x="598.3" y="483.4" font-family="'Liberation Serif', serif" font-size="15" fill="#2a2a2a" text-anchor="start" textLength="24.1" lengthAdjust="spacing">274</text>
<text x="664.6" y="483.4" font-family="'Liberation Serif', serif" font-size="15" fill="#2a2a2a" text-anchor="start" textLength="53.7" lengthAdjust="spacing">A2FE80</text>
</g>
</svg>
</body></html>
